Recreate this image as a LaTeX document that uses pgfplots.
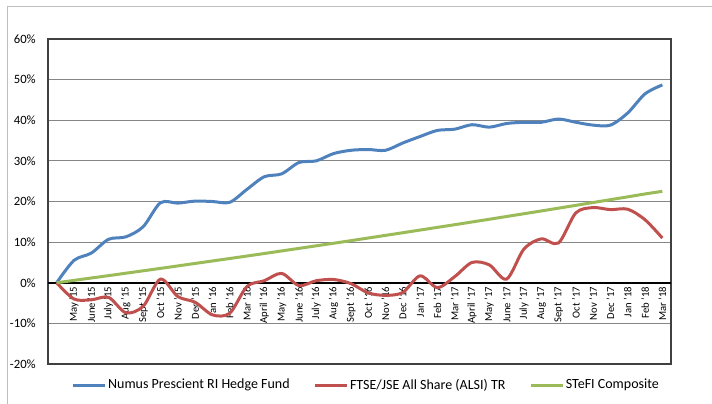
\documentclass[border=0pt]{standalone}
\usepackage{fontspec}
\setmainfont{Carlito}
\usepackage{pgfplots}
\pgfplotsset{compat=1.18}
\definecolor{sblue}{RGB}{79,129,189}
\definecolor{sred}{RGB}{192,80,77}
\definecolor{sgreen}{RGB}{155,187,89}
\definecolor{gridgray}{RGB}{134,134,134}
\definecolor{framegray}{RGB}{190,190,190}
\begin{document}
\begin{tikzpicture}
\useasboundingbox (-36pt,-29.25pt) rectangle (498pt,273pt);
\draw[framegray, line width=0.75pt] (-30.75pt,-40pt) -- (-30.75pt,267.75pt) -- (510pt,267.75pt);
\begin{axis}[
  scale only axis, width=467.25pt, height=243.75pt,
  at={(0,0)}, anchor=south west,
  xmin=-0.5, xmax=35.5, ymin=-20, ymax=60,
  xtick={1,...,35},
  xticklabels={May '15,June '15,July '15,Aug '15,Sept '15,Oct '15,Nov '15,Dec '15,Jan '16,Feb '16,Mar '16,April '16,May '16,June '16,July '16,Aug '16,Sept '16,Oct '16,Nov '16,Dec '16,Jan '17,Feb '17,Mar '17,April '17,May '17,June '17,July '17,Aug '17,Sept '17,Oct '17,Nov '17,Dec '17,Jan '18,Feb '18,Mar '18},
  ytick={-20,-10,0,10,20,30,40,50,60},
  yticklabels={-20\%,-10\%,0\%,10\%,20\%,30\%,40\%,50\%,60\%},
  major tick length=0pt,
  ymajorgrids, grid style={color=gridgray, line width=0.7pt},
  axis line style={color=black!75, line width=0.8pt},
  xticklabel style={yshift=57.9pt, rotate=90, anchor=east, inner sep=0pt, font=\fontsize{8}{9}\selectfont},
  yticklabel style={anchor=east, inner sep=0pt, xshift=-9pt, font=\fontsize{9.5}{11}\selectfont},
  extra y ticks={0}, extra y tick labels={},
  extra y tick style={grid style={color=black, line width=1.6pt}},
  legend columns=3,
  legend style={at={(0.5104,-0.0646)}, anchor=center, draw=none, fill=none,
    font=\fontsize{10.5}{12}\selectfont, nodes={inner sep=1pt},
    /tikz/every even column/.append style={column sep=17pt}},
  legend image code/.code={\draw[#1, line width=2.25pt] (0pt,0pt) -- (24pt,0pt);},
  every axis plot/.append style={line width=2.25pt, smooth, no markers},
]
\addplot[sblue] coordinates {
(0,0) (1,5.5) (2,7.3) (3,10.7) (4,11.3) (5,13.8) (6,19.7) (7,19.6) (8,20.1) (9,20.0)
(10,19.8) (11,23.0) (12,26.1) (13,26.8) (14,29.6) (15,30.0) (16,31.8) (17,32.6) (18,32.8) (19,32.6)
(20,34.4) (21,36.0) (22,37.5) (23,37.8) (24,38.9) (25,38.3) (26,39.2) (27,39.5) (28,39.5) (29,40.3)
(30,39.5) (31,38.8) (32,38.8) (33,41.8) (34,46.5) (35,48.7)};
\addlegendentry{Numus Prescient RI Hedge Fund}
\addplot[sred] coordinates {
(0,0) (1,-4.0) (2,-4.2) (3,-3.6) (4,-7.4) (5,-5.8) (6,0.9) (7,-3.4) (8,-4.8) (9,-7.9)
(10,-7.5) (11,-0.9) (12,0.5) (13,2.3) (14,-0.7) (15,0.5) (16,0.8) (17,-0.2) (18,-2.5) (19,-3.1)
(20,-2.4) (21,1.7) (22,-1.2) (23,1.5) (24,5.0) (25,4.4) (26,0.9) (27,8.3) (28,10.8) (29,9.8)
(30,17.2) (31,18.5) (32,18.0) (33,18.1) (34,15.5) (35,11.0)};
\addlegendentry{FTSE/JSE All Share (ALSI) TR}
\addplot[sgreen] coordinates {
(0,0) (1,0.58) (2,1.17) (3,1.75) (4,2.35) (5,2.94) (6,3.54) (7,4.14) (8,4.75) (9,5.36)
(10,5.97) (11,6.58) (12,7.20) (13,7.83) (14,8.46) (15,9.09) (16,9.72) (17,10.36) (18,11.01) (19,11.66)
(20,12.31) (21,12.97) (22,13.63) (23,14.29) (24,14.96) (25,15.63) (26,16.31) (27,16.99) (28,17.67) (29,18.36)
(30,19.05) (31,19.75) (32,20.45) (33,21.15) (34,21.86) (35,22.50)};
\addlegendentry{STeFI Composite}
\end{axis}
\end{tikzpicture}
\end{document}
